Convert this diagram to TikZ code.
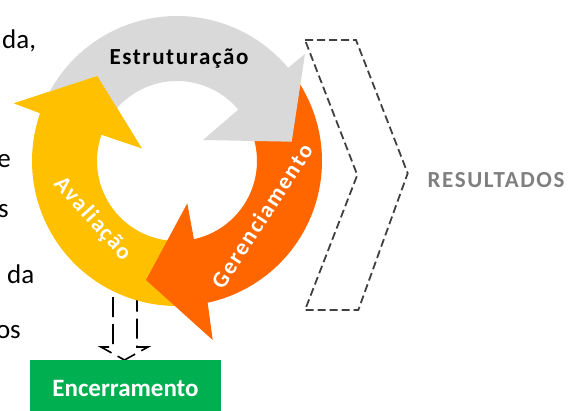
\documentclass[tikz,border=0pt]{standalone}
\usepackage{fontspec}
\setmainfont{Carlito}
\newfontfamily\cyclefont[LetterSpace=7]{Carlito}
\usepackage{tikz}
\usetikzlibrary{calc}
\definecolor{cyclegray}{HTML}{D9D9D9}
\definecolor{cycleyellow}{HTML}{FFC000}
\definecolor{cycleorange}{HTML}{FF6600}
\definecolor{closegreen}{HTML}{00B050}
\definecolor{resultgray}{HTML}{7F7F7F}
\definecolor{dashgray}{HTML}{404040}
\tikzset{
  cyclelabel/.style={font=\cyclefont\bfseries\fontsize{23}{27}\selectfont, inner sep=0pt},
  bodytext/.style={font=\fontsize{27}{32}\selectfont, inner sep=0pt},
}

\begin{document}
\begin{tikzpicture}[x=1pt, y=-1pt]
  \useasboundingbox (0,0) rectangle (569,410);
  \coordinate (hub) at (177,161);

  \draw[black, line width=1.6pt, dash pattern=on 20pt off 7pt] (113,270) -- (113,347) -- (101,347) -- (124.5,360) -- (148,347) -- (137,347) -- (137,270);

  \fill[cycleyellow] ($(hub)+(85:145)$) arc[start angle=85, end angle=199.2, radius=145] -- (14,103.3) -- (97.3,76) -- (141.7,148.3) -- ($(hub)+(199.2:80)$) arc[start angle=199.2, end angle=85, radius=80] -- cycle;
  \fill[cycleorange] ($(hub)+(325:145)$) arc[start angle=325, end angle=437.8, radius=145] -- (212.7,340) -- (146,280) -- (187.3,203.3) -- ($(hub)+(437.8:80)$) arc[start angle=437.8, end angle=325, radius=80] -- cycle;
  \fill[cyclegray] ($(hub)+(207:145)$) arc[start angle=207, end angle=320, radius=145] -- (305,54) -- (291.7,141.7) -- (203,140) -- ($(hub)+(320:80)$) arc[start angle=320, end angle=207, radius=80] -- cycle;
  \fill[cycleyellow] (14,103.3) -- (97.3,76) -- (141.7,148.3) -- cycle;

  \draw[dashgray, line width=1.8pt, dash pattern=on 8pt off 4pt] (305,40) -- (356,40) -- (407.7,173.3) -- (358.3,310) -- (305,310) -- (357.3,175) -- cycle;

  \node[cyclelabel, text=black, anchor=base] (estruturacao) at (179,64) {Estruturação};
  \node[cyclelabel, text=white, rotate=57] (gerenciamento) at (262,216) {Gerenciamento};
  \node[cyclelabel, text=white, rotate=-48] (avaliacao) at (93,219) {Avaliação};
  \node[cyclelabel, text=resultgray, anchor=base] (resultados) at (496,187) {RESULTADOS};
  \node[fill=closegreen, text=white, font=\bfseries\fontsize{25}{30}\selectfont, minimum width=191pt, minimum height=57pt, inner sep=0pt] (encerramento) at (125.5,388.5) {Encerramento};

  \node[bodytext, anchor=base west] (linea) at (2,48) {da,};
  \node[bodytext, anchor=base east] (lineb) at (11,167) {e};
  \node[bodytext, anchor=base east] (linec) at (9,217) {s};
  \node[bodytext, anchor=base west] (lined) at (7,283) {da};
  \node[bodytext, anchor=base east] (linee) at (21,338) {os};
\end{tikzpicture}
\end{document}
